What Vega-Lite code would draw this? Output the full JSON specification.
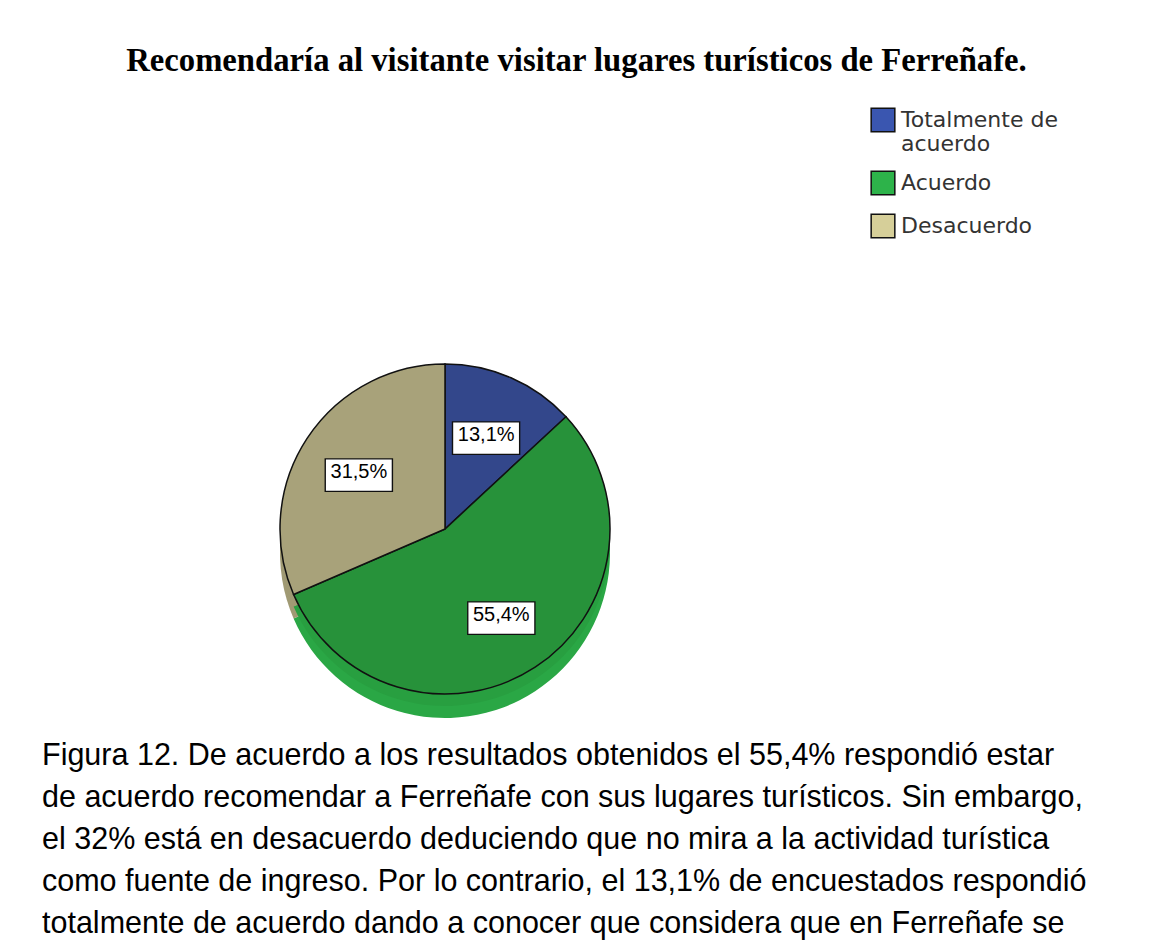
{
  "$schema": "https://vega.github.io/schema/vega-lite/v6.json",
  "background": "white",
  "padding": {"left": 42, "top": 45, "right": 0, "bottom": 0},
  "autosize": {"type": "pad"},
  "config": {
    "view": {"stroke": null},
    "font": "Liberation Sans",
    "locale": {"number": {"decimal": ",", "thousands": ".", "grouping": [3], "currency": ["", " €"]}}
  },
  "title": {
    "text": "Recomendaría al visitante visitar lugares turísticos de Ferreñafe.",
    "font": "Liberation Serif",
    "fontSize": 32.7,
    "fontWeight": "bold",
    "color": "black",
    "anchor": "middle",
    "dx": 8,
    "offset": 29
  },
  "datasets": {
    "respuestas": [
      {"categoria": "Totalmente de acuerdo", "orden": 1, "proporcion": 0.131},
      {"categoria": "Acuerdo", "orden": 2, "proporcion": 0.554},
      {"categoria": "Desacuerdo", "orden": 3, "proporcion": 0.315}
    ]
  },
  "vconcat": [
    {
      "width": 806,
      "height": 330,
      "title": {
        "text": [
          "Figura 12. De acuerdo a los resultados obtenidos el 55,4% respondió estar",
          "de acuerdo recomendar a Ferreñafe con sus lugares turísticos. Sin embargo,",
          "el 32% está en desacuerdo deduciendo que no mira a la actividad turística",
          "como fuente de ingreso.  Por lo contrario, el 13,1% de encuestados respondió",
          "totalmente de acuerdo dando a conocer que considera que en Ferreñafe se"
        ],
        "orient": "bottom",
        "anchor": "start",
        "align": "left",
        "font": "Liberation Sans",
        "fontSize": 30.5,
        "fontWeight": "normal",
        "color": "black",
        "lineHeight": 42,
        "offset": 23
      },
      "data": {"name": "respuestas"},
      "encoding": {
        "theta": {"field": "proporcion", "type": "quantitative", "stack": true},
        "order": {"field": "orden", "type": "quantitative"}
      },
      "layer": [
        {
          "mark": {"type": "arc"},
          "encoding": {
            "color": {
              "field": "categoria", "type": "nominal",
              "scale": {"domain": ["Totalmente de acuerdo", "Acuerdo", "Desacuerdo"], "range": ["#3a56b0", "#2db34a", "#d6cf99"]},
              "legend": {
                "title": null,
                "orient": "none",
                "legendX": 828,
                "legendY": -257,
                "symbolType": "square",
                "symbolSize": 560,
                "symbolStrokeColor": "#111111",
                "symbolStrokeWidth": 1.5,
                "symbolOpacity": 1,
                "labelFont": "DejaVu Sans",
                "labelFontSize": 22,
                "labelColor": "#333333",
                "labelOffset": 5,
                "rowPadding": 13,
                "labelExpr": "datum.label == 'Totalmente de acuerdo' ? ['Totalmente de', 'acuerdo'] : datum.label"
              }
            }
          }
        },
        {
          "mark": {"type": "arc", "yOffset": 24},
          "encoding": {
            "color": {
              "field": "categoria", "type": "nominal",
              "scale": {"domain": ["Totalmente de acuerdo", "Acuerdo", "Desacuerdo"], "range": ["#2c3d78", "#2aa745", "#a09a74"]},
              "legend": null
            }
          }
        },
        {
          "mark": {"type": "arc", "yOffset": 12},
          "encoding": {
            "color": {
              "field": "categoria", "type": "nominal",
              "scale": {"domain": ["Totalmente de acuerdo", "Acuerdo", "Desacuerdo"], "range": ["#2c3d78", "#289f40", "#a09a74"]},
              "legend": null
            }
          }
        },
        {
          "mark": {"type": "arc", "stroke": "#111111", "strokeWidth": 1.5},
          "encoding": {
            "color": {
              "field": "categoria", "type": "nominal",
              "scale": {"domain": ["Totalmente de acuerdo", "Acuerdo", "Desacuerdo"], "range": ["#33478b", "#27923a", "#a8a27a"]},
              "legend": null
            }
          }
        },
        {
          "mark": {"type": "text", "text": "▬", "font": "DejaVu Sans", "fontSize": 88, "fill": "white", "stroke": "#111111", "strokeWidth": 1.4, "radius": 103}
        },
        {
          "mark": {"type": "text", "font": "Liberation Sans", "fontSize": 20, "fill": "black", "radius": 103},
          "encoding": {
            "text": {"field": "proporcion", "type": "quantitative", "format": ".1%"}
          }
        }
      ],
      "resolve": {"scale": {"color": "independent"}}
    }
  ]
}
